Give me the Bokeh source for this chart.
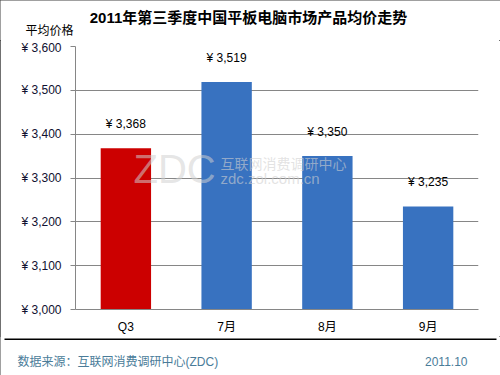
from bokeh.plotting import figure
from bokeh.layouts import column, row
from bokeh.models import ColumnDataSource, FixedTicker, Label, BoxAnnotation
from bokeh.core.properties import value
from bokeh.embed import file_html
from bokeh.resources import INLINE

# ---- data ----
categories = ["Q3", "7月", "8月", "9月"]
prices = [3368, 3519, 3350, 3235]
bar_colors = ["#cc0000", "#3872c0", "#3872c0", "#3872c0"]
price_labels = ["¥ 3,368", "¥ 3,519", "¥ 3,350", "¥ 3,235"]
y_ticks = [3000, 3100, 3200, 3300, 3400, 3500, 3600]
y_tick_labels = ["¥ 3,000", "¥ 3,100", "¥ 3,200", "¥ 3,300", "¥ 3,400", "¥ 3,500", "¥ 3,600"]
title_text = "2011年第三季度中国平板电脑市场产品均价走势"
y_title = "平均价格"
source_text = "数据来源：互联网消费调研中心(ZDC)"
date_text = "2011.10"

FONT = "Liberation Sans, Noto Sans CJK SC"
W = 500


def blank(height):
    f = figure(width=W, height=height, output_backend="svg", toolbar_location=None,
               x_axis_type=None, y_axis_type=None, x_range=(0, 1), y_range=(0, 1),
               min_border=0, min_border_left=0, min_border_right=0,
               min_border_top=0, min_border_bottom=0)
    f.outline_line_color = None
    f.grid.grid_line_color = None
    f.background_fill_color = "white"
    f.border_fill_color = "white"
    return f


# ---- header ----
head = blank(40)
head.add_layout(Label(x=248, y=23, x_units="screen", y_units="screen", text=title_text,
                      text_font=FONT, text_font_size="15px", text_font_style="bold",
                      text_color="black", text_align="center", text_baseline="middle"))
head.add_layout(Label(x=25, y=10, x_units="screen", y_units="screen", text=y_title,
                      text_font=FONT, text_font_size="12px", text_color="black",
                      text_baseline="middle"))

# ---- main chart ----
src = ColumnDataSource(dict(cat=categories, val=prices, color=bar_colors, lab=price_labels))

p = figure(x_range=categories, y_range=(3000, 3600), width=W, height=296,
           output_backend="svg", toolbar_location=None,
           min_border_left=75, min_border_right=22, min_border_top=6, min_border_bottom=27)
p.frame_width = 403
p.frame_height = 263
p.outline_line_color = None
p.border_fill_color = "white"
p.background_fill_color = "white"

p.vbar(x="cat", top="val", bottom=3000, width=0.5, color="color", source=src, line_color=None)
p.text(x="cat", y="val", text="lab", source=src, y_offset=-24,
       text_align="center", text_baseline="middle",
       text_font=value(FONT), text_font_size="12px", text_color="black")

p.yaxis.ticker = FixedTicker(ticks=y_ticks)
p.yaxis.major_label_overrides = {t: l for t, l in zip(y_ticks, y_tick_labels)}
p.yaxis.major_label_text_font = FONT
p.yaxis.major_label_text_font_size = "12px"
p.yaxis.major_label_text_color = "#101030"
p.yaxis.axis_line_color = "#868686"
p.yaxis.major_tick_line_color = "#868686"
p.yaxis.major_tick_out = 5
p.yaxis.major_tick_in = 0
p.yaxis.minor_tick_line_color = None
p.yaxis.major_label_standoff = 9

p.xaxis.axis_line_color = "#868686"
p.xaxis.major_tick_line_color = None
p.xaxis.major_label_text_font = FONT
p.xaxis.major_label_text_font_size = "12px"
p.xaxis.major_label_text_color = "black"
p.xaxis.major_label_standoff = 4

p.xgrid.grid_line_color = None
p.ygrid.grid_line_color = "#868686"
p.ygrid.grid_line_width = 1

# watermark (screen units relative to plot frame)
p.add_layout(Label(x=58, y=141, x_units="screen", y_units="screen", text="ZDC",
                   text_font=FONT, text_font_size="40px", text_color="#d0d0d0",
                   text_alpha=0.55, text_baseline="middle"))
p.add_layout(Label(x=145, y=146, x_units="screen", y_units="screen", text="互联网消费调研中心",
                   text_font=FONT, text_font_size="14px", text_color="#d0d0d0",
                   text_alpha=0.6, text_baseline="middle"))
p.add_layout(Label(x=145, y=131, x_units="screen", y_units="screen", text="zdc.zol.com.cn",
                   text_font=FONT, text_font_size="15px", text_color="#d0d0d0",
                   text_alpha=0.6, text_baseline="middle"))

# ---- footer ----
foot = blank(39)
foot.add_layout(BoxAnnotation(left=4, right=496, bottom=35.5, top=37,
                              left_units="screen", right_units="screen",
                              bottom_units="screen", top_units="screen",
                              fill_color="black", fill_alpha=1, line_color=None))
foot.add_layout(Label(x=17, y=14, x_units="screen", y_units="screen", text=source_text,
                      text_font=FONT, text_font_size="12px", text_color="#4a7c99",
                      text_baseline="middle"))
foot.add_layout(Label(x=467, y=14, x_units="screen", y_units="screen", text=date_text,
                      text_font=FONT, text_font_size="12px", text_color="#4a7c99",
                      text_align="right", text_baseline="middle"))

layout = column(row(head), row(p), row(foot), spacing=0,
                styles={"outline": "1.5px solid #404040", "outline-offset": "-1.5px"})

open("out.html", "w").write(file_html(layout, INLINE))
